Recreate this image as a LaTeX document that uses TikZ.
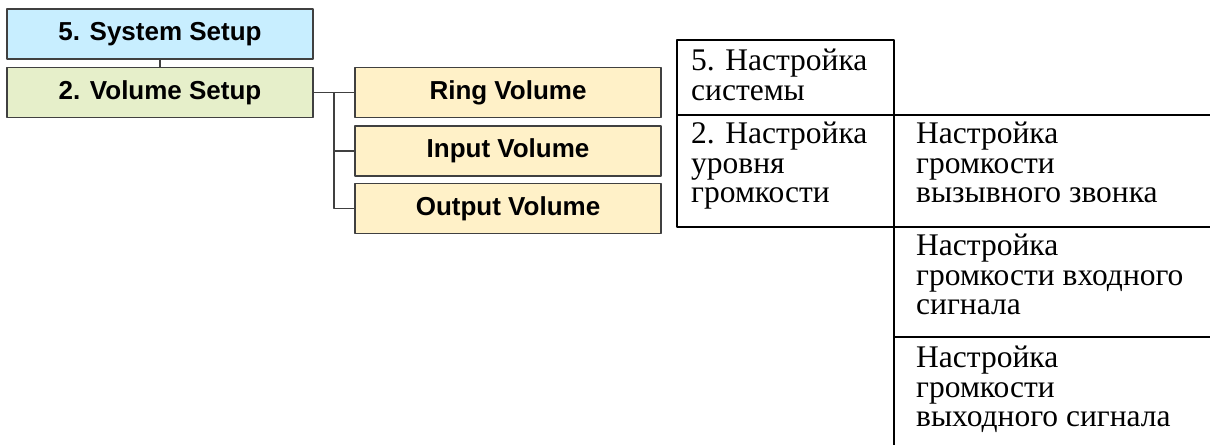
\documentclass[tikz,border=0pt]{standalone}
\usepackage{fontspec}
\setmainfont{Liberation Serif}
\newfontfamily\menufont{Liberation Sans}
\definecolor{sysblue}{HTML}{C8EEFF}
\definecolor{volgreen}{HTML}{E6EFCA}
\definecolor{itemyellow}{HTML}{FFF1C8}
\definecolor{boxgray}{HTML}{404040}
\begin{document}
\begin{tikzpicture}[x=1pt,y=-1pt,line join=round,
  menubox/.style={draw=boxgray,line width=1.2pt,minimum width=306pt,minimum height=50pt,inner sep=0pt,font=\menufont\fontsize{26}{30}\selectfont\bfseries},
  cellbox/.style={anchor=north west,inner sep=0pt,align=left,font=\fontsize{31.5}{29.5}\selectfont},
  link/.style={draw=boxgray,line width=1.2pt},
  grid/.style={line width=1.7pt}]
			\useasboundingbox (0,0) rectangle (1210,445);
			% menu tree
			\node[menubox,fill=sysblue] (sys) at (160,34) {5. System Setup};
			\node[menubox,fill=volgreen] (vol) at (160,92.5) {2. Volume Setup};
			\node[menubox,fill=itemyellow] (ring) at (508,92.5) {Ring Volume};
			\node[menubox,fill=itemyellow] (inp) at (508,151) {Input Volume};
			\node[menubox,fill=itemyellow] (outp) at (508,208.5) {Output Volume};
			\coordinate (br) at (334,92.5);
			\draw[link] (sys) -- (vol);
			\draw[link] (vol) -- (ring);
			\draw[link] (br) |- (inp.west);
			\draw[link] (br) |- (outp.west);
			% table
			\draw[grid] (894,115) -- (894,40) -- (677,40) -- (677,227) -- (894,227);
			\draw[grid] (677,115) -- (1210,115);
			\draw[grid] (894,227) -- (1210,227);
			\draw[grid] (894,337) -- (1210,337);
			\draw[grid] (894,115) -- (894,445);
			\node[cellbox] (c1) at (691,49) {5. Настройка\\системы};
			\node[cellbox] (c2) at (691,122) {2. Настройка\\уровня\\громкости};
			\node[cellbox] (c3) at (916,122) {Настройка\\громкости\\вызывного звонка};
			\node[cellbox] (c4) at (916,234) {Настройка\\громкости входного\\сигнала};
			\node[cellbox] (c5) at (916,346) {Настройка\\громкости\\выходного сигнала};
		\end{tikzpicture}
\end{document}
